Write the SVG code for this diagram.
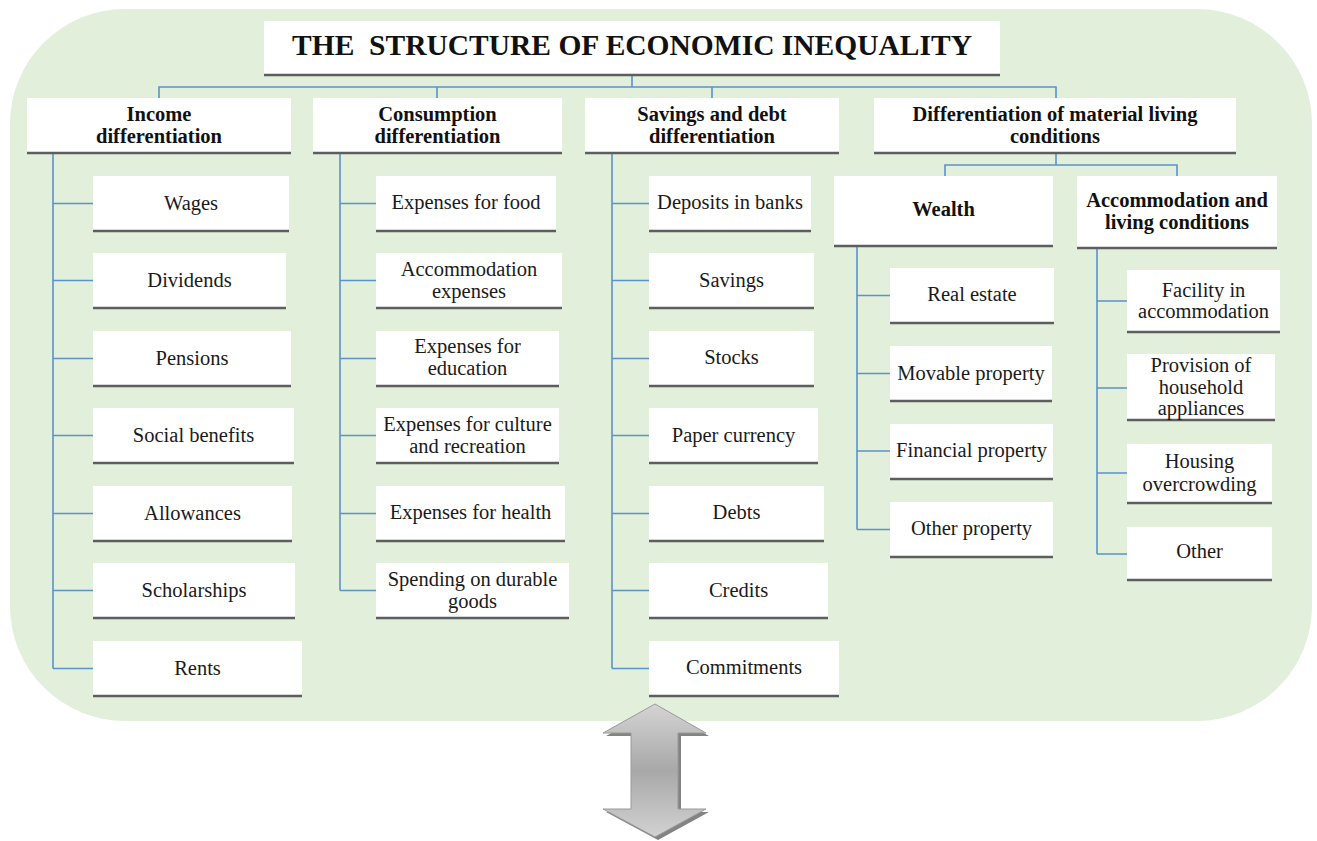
<svg xmlns="http://www.w3.org/2000/svg" width="1317" height="841" viewBox="0 0 1317 841">
<style>
.bx{fill:#ffffff}
.sh{stroke:#5e5e5e;stroke-width:2.5;fill:none}
.t{font-family:'Liberation Serif','Tinos','DejaVu Serif',serif;font-size:20.5px;font-weight:normal;fill:#1a1a1a;text-anchor:middle}
.tb{font-family:'Liberation Serif','Tinos','DejaVu Serif',serif;font-size:20.5px;font-weight:bold;fill:#111;text-anchor:middle}
.ti{font-family:'Liberation Serif','Tinos','DejaVu Serif',serif;font-size:29.5px;font-weight:bold;fill:#111;text-anchor:middle}
.c{stroke:#5b93c9;stroke-width:1.6;fill:none}
</style>
<defs>
<linearGradient id="ag" x1="0" y1="0" x2="0" y2="1">
<stop offset="0" stop-color="#d4d4d4"/>
<stop offset="0.5" stop-color="#a8a8a8"/>
<stop offset="1" stop-color="#d2d2d2"/>
</linearGradient>
</defs>
<rect x="0" y="0" width="1317" height="841" fill="#ffffff"/>
<rect x="10" y="9" width="1302" height="712" rx="115" ry="115" fill="#e2efda"/>

<g id="connectors">
<path class="c" d="M632,75 V87 M159,98 V87 H1056 V98 M437,87 V98 M712,87 V98"/>
<path class="c" d="M53,153 V668.5 M53,203.5 H93 M53,280.5 H93 M53,358.5 H93 M53,435.5 H93 M53,513.5 H93 M53,590.5 H93 M53,668.5 H93"/>
<path class="c" d="M340,153 V590.5 M340,203.5 H376 M340,280.5 H376 M340,358.5 H376 M340,435.5 H376 M340,513.5 H376 M340,590.5 H376"/>
<path class="c" d="M612,153 V668.5 M612,203.5 H649 M612,280.5 H649 M612,358.5 H649 M612,435.5 H649 M612,513.5 H649 M612,590.5 H649 M612,668.5 H649"/>
<path class="c" d="M1056,153 V165 M945,176 V165 H1177 V176"/>
<path class="c" d="M857,246 V529.5 M857,295.5 H890 M857,373.5 H890 M857,451 H890 M857,529.5 H890"/>
<path class="c" d="M1097,248 V554 M1097,301 H1127 M1097,388 H1127 M1097,473 H1127 M1097,554 H1127"/>
</g>

<g id="title"><rect class="bx" x="264" y="21" width="736" height="54"/><line class="sh" x1="264" y1="75" x2="1000" y2="75"/><text class="ti" x="632" y="55">THE&#160; STRUCTURE OF ECONOMIC INEQUALITY</text></g>

<g id="income"><rect class="bx" x="27" y="98" width="264" height="55"/><line class="sh" x1="27" y1="153" x2="291" y2="153"/><text class="tb" x="159" y="121">Income</text><text class="tb" x="159" y="143">differentiation</text></g>
<g id="consumption"><rect class="bx" x="313" y="98" width="249" height="55"/><line class="sh" x1="313" y1="153" x2="562" y2="153"/><text class="tb" x="437.5" y="121">Consumption</text><text class="tb" x="437.5" y="143">differentiation</text></g>
<g id="savings"><rect class="bx" x="585" y="98" width="254" height="55"/><line class="sh" x1="585" y1="153" x2="839" y2="153"/><text class="tb" x="712" y="121">Savings and debt</text><text class="tb" x="712" y="143">differentiation</text></g>
<g id="material"><rect class="bx" x="874" y="98" width="362" height="55"/><line class="sh" x1="874" y1="153" x2="1236" y2="153"/><text class="tb" x="1055" y="121">Differentiation of material living</text><text class="tb" x="1055" y="143">conditions</text></g>

<g id="wages"><rect class="bx" x="93" y="176" width="196" height="55"/><line class="sh" x1="93" y1="231" x2="289" y2="231"/><text class="t" x="191" y="210">Wages</text></g>
<g id="dividends"><rect class="bx" x="93" y="253" width="193" height="55"/><line class="sh" x1="93" y1="308" x2="286" y2="308"/><text class="t" x="189.5" y="287">Dividends</text></g>
<g id="pensions"><rect class="bx" x="93" y="331" width="198" height="55"/><line class="sh" x1="93" y1="386" x2="291" y2="386"/><text class="t" x="192" y="365">Pensions</text></g>
<g id="social"><rect class="bx" x="93" y="408" width="201" height="55"/><line class="sh" x1="93" y1="463" x2="294" y2="463"/><text class="t" x="193.5" y="442">Social benefits</text></g>
<g id="allowances"><rect class="bx" x="93" y="486" width="199" height="55"/><line class="sh" x1="93" y1="541" x2="292" y2="541"/><text class="t" x="192.5" y="520">Allowances</text></g>
<g id="scholarships"><rect class="bx" x="93" y="563" width="202" height="55"/><line class="sh" x1="93" y1="618" x2="295" y2="618"/><text class="t" x="194" y="597">Scholarships</text></g>
<g id="rents"><rect class="bx" x="93" y="641" width="209" height="55"/><line class="sh" x1="93" y1="696" x2="302" y2="696"/><text class="t" x="197.5" y="675">Rents</text></g>

<g id="food"><rect class="bx" x="376" y="176" width="180" height="55"/><line class="sh" x1="376" y1="231" x2="556" y2="231"/><text class="t" x="466" y="209">Expenses for food</text></g>
<g id="accexp"><rect class="bx" x="376" y="253" width="186" height="55"/><line class="sh" x1="376" y1="308" x2="562" y2="308"/><text class="t" x="469" y="276">Accommodation</text><text class="t" x="469" y="298">expenses</text></g>
<g id="education"><rect class="bx" x="376" y="331" width="183" height="55"/><line class="sh" x1="376" y1="386" x2="559" y2="386"/><text class="t" x="467.5" y="353">Expenses for</text><text class="t" x="467.5" y="375">education</text></g>
<g id="culture"><rect class="bx" x="376" y="408" width="183" height="55"/><line class="sh" x1="376" y1="463" x2="559" y2="463"/><text class="t" x="467.5" y="431">Expenses for culture</text><text class="t" x="467.5" y="453">and recreation</text></g>
<g id="health"><rect class="bx" x="376" y="486" width="189" height="55"/><line class="sh" x1="376" y1="541" x2="565" y2="541"/><text class="t" x="470.5" y="519">Expenses for health</text></g>
<g id="durable"><rect class="bx" x="376" y="563" width="193" height="55"/><line class="sh" x1="376" y1="618" x2="569" y2="618"/><text class="t" x="472.5" y="586">Spending on durable</text><text class="t" x="472.5" y="608">goods</text></g>

<g id="deposits"><rect class="bx" x="649" y="176" width="162" height="55"/><line class="sh" x1="649" y1="231" x2="811" y2="231"/><text class="t" x="730" y="209">Deposits in banks</text></g>
<g id="savings2"><rect class="bx" x="649" y="253" width="165" height="55"/><line class="sh" x1="649" y1="308" x2="814" y2="308"/><text class="t" x="731.5" y="287">Savings</text></g>
<g id="stocks"><rect class="bx" x="649" y="331" width="165" height="55"/><line class="sh" x1="649" y1="386" x2="814" y2="386"/><text class="t" x="731.5" y="364">Stocks</text></g>
<g id="paper"><rect class="bx" x="649" y="408" width="169" height="55"/><line class="sh" x1="649" y1="463" x2="818" y2="463"/><text class="t" x="733.5" y="442">Paper currency</text></g>
<g id="debts"><rect class="bx" x="649" y="486" width="175" height="55"/><line class="sh" x1="649" y1="541" x2="824" y2="541"/><text class="t" x="736.5" y="519">Debts</text></g>
<g id="credits"><rect class="bx" x="649" y="563" width="179" height="55"/><line class="sh" x1="649" y1="618" x2="828" y2="618"/><text class="t" x="738.5" y="597">Credits</text></g>
<g id="commitments"><rect class="bx" x="649" y="641" width="190" height="55"/><line class="sh" x1="649" y1="696" x2="839" y2="696"/><text class="t" x="744" y="674">Commitments</text></g>

<g id="wealth"><rect class="bx" x="834" y="176" width="219" height="70"/><line class="sh" x1="834" y1="246" x2="1053" y2="246"/><text class="tb" x="943.5" y="216">Wealth</text></g>
<g id="accommodation"><rect class="bx" x="1077" y="176" width="200" height="72"/><line class="sh" x1="1077" y1="248" x2="1277" y2="248"/><text class="tb" x="1177" y="207">Accommodation and</text><text class="tb" x="1177" y="229">living conditions</text></g>

<g id="realestate"><rect class="bx" x="890" y="268" width="164" height="55"/><line class="sh" x1="890" y1="323" x2="1054" y2="323"/><text class="t" x="972" y="301">Real estate</text></g>
<g id="movable"><rect class="bx" x="890" y="346" width="162" height="55"/><line class="sh" x1="890" y1="401" x2="1052" y2="401"/><text class="t" x="971" y="380">Movable property</text></g>
<g id="financial"><rect class="bx" x="890" y="424" width="163" height="55"/><line class="sh" x1="890" y1="479" x2="1053" y2="479"/><text class="t" x="971.5" y="457">Financial property</text></g>
<g id="otherprop"><rect class="bx" x="890" y="502" width="163" height="55"/><line class="sh" x1="890" y1="557" x2="1053" y2="557"/><text class="t" x="971.5" y="535">Other property</text></g>

<g id="facility"><rect class="bx" x="1127" y="270" width="153" height="62"/><line class="sh" x1="1127" y1="332" x2="1280" y2="332"/><text class="t" x="1203.5" y="297">Facility in</text><text class="t" x="1203.5" y="318">accommodation</text></g>
<g id="provision"><rect class="bx" x="1127" y="354" width="148" height="66"/><line class="sh" x1="1127" y1="420" x2="1275" y2="420"/><text class="t" x="1201" y="372">Provision of</text><text class="t" x="1201" y="394">household</text><text class="t" x="1201" y="415">appliances</text></g>
<g id="housing"><rect class="bx" x="1127" y="444" width="145" height="59"/><line class="sh" x1="1127" y1="503" x2="1272" y2="503"/><text class="t" x="1199.5" y="468">Housing</text><text class="t" x="1199.5" y="491">overcrowding</text></g>
<g id="other"><rect class="bx" x="1127" y="527" width="145" height="53"/><line class="sh" x1="1127" y1="580" x2="1272" y2="580"/><text class="t" x="1199.5" y="558">Other</text></g>

<g id="arrow">
<polygon points="658,707 709,736 681,736 681,812 709,812 658,840 606,812 634,812 634,736 606,736" fill="#5a5a5a" opacity="0.75"/>
<polygon points="655,704 706,733 678,733 678,809 706,809 655,837 603,809 631,809 631,733 603,733" fill="url(#ag)" stroke="#9a9a9a" stroke-width="1"/>
</g>
</svg>
